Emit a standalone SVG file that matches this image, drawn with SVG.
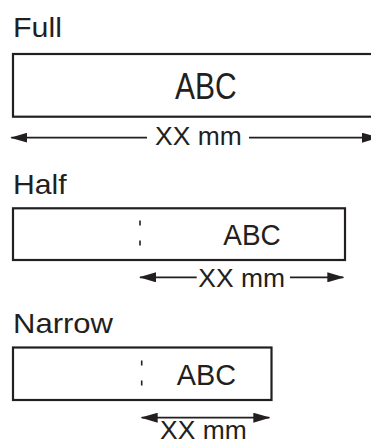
<svg xmlns="http://www.w3.org/2000/svg" width="371" height="444" viewBox="0 0 371 444">
<style>
.t{font-family:"Liberation Sans",Arial,sans-serif;fill:#231f20}
.box{fill:#fff;stroke:#231f20;stroke-width:2.2}
.dot{stroke:#231f20;stroke-width:1.6;stroke-dasharray:5 15}
.ln{stroke:#231f20;stroke-width:1.8;fill:none}
</style>
<defs>
<marker id="ah" markerUnits="userSpaceOnUse" markerWidth="17" markerHeight="10" refX="16" refY="5" orient="auto-start-reverse" viewBox="0 0 17 10">
<path d="M0,0 L17,5 L0,10 z" fill="#231f20"/>
</marker>
</defs>
<rect width="371" height="444" fill="#fff"/>
<g id="full">
<text class="t" x="13" y="37.3" font-size="28.5" textLength="49" lengthAdjust="spacingAndGlyphs">Full</text>
<rect class="box" x="13" y="54" width="370" height="62.7"/>
<text class="t" x="175" y="99.3" font-size="37.7" textLength="61.7" lengthAdjust="spacingAndGlyphs">ABC</text>
<text class="t" x="155" y="145" font-size="25.5" textLength="86.7" lengthAdjust="spacingAndGlyphs">XX mm</text>
</g>
<g id="half">
<text class="t" x="13" y="194" font-size="28" textLength="53.7" lengthAdjust="spacingAndGlyphs">Half</text>
<rect class="box" x="13" y="208.3" width="332" height="51.7"/>
<line class="dot" x1="140" y1="220.5" x2="140" y2="248"/>
<text class="t" x="223.3" y="245" font-size="30" textLength="57.4" lengthAdjust="spacingAndGlyphs">ABC</text>
<text class="t" x="198.3" y="286.7" font-size="26.5" textLength="86.7" lengthAdjust="spacingAndGlyphs">XX mm</text>
</g>
<g id="narrow">
<text class="t" x="13" y="333.3" font-size="28" textLength="100" lengthAdjust="spacingAndGlyphs">Narrow</text>
<rect class="box" x="13" y="347.5" width="258.5" height="52.5"/>
<line class="dot" x1="141.7" y1="360.5" x2="141.7" y2="388"/>
<text class="t" x="176.7" y="385" font-size="30" textLength="59.3" lengthAdjust="spacingAndGlyphs">ABC</text>
<text class="t" x="160" y="438.5" font-size="25.5" textLength="86.7" lengthAdjust="spacingAndGlyphs">XX mm</text>
</g>
<g id="connectors">
<line class="ln" x1="147" y1="137.7" x2="11.3" y2="137.7" marker-end="url(#ah)"/>
<line class="ln" x1="249" y1="137.7" x2="378" y2="137.7" marker-end="url(#ah)"/>
<line class="ln" x1="196.7" y1="277.3" x2="140" y2="277.3" marker-end="url(#ah)"/>
<line class="ln" x1="290" y1="277.3" x2="343.3" y2="277.3" marker-end="url(#ah)"/>
<line class="ln" x1="141.7" y1="417.7" x2="269.3" y2="417.7" marker-start="url(#ah)" marker-end="url(#ah)"/>
</g>
</svg>
